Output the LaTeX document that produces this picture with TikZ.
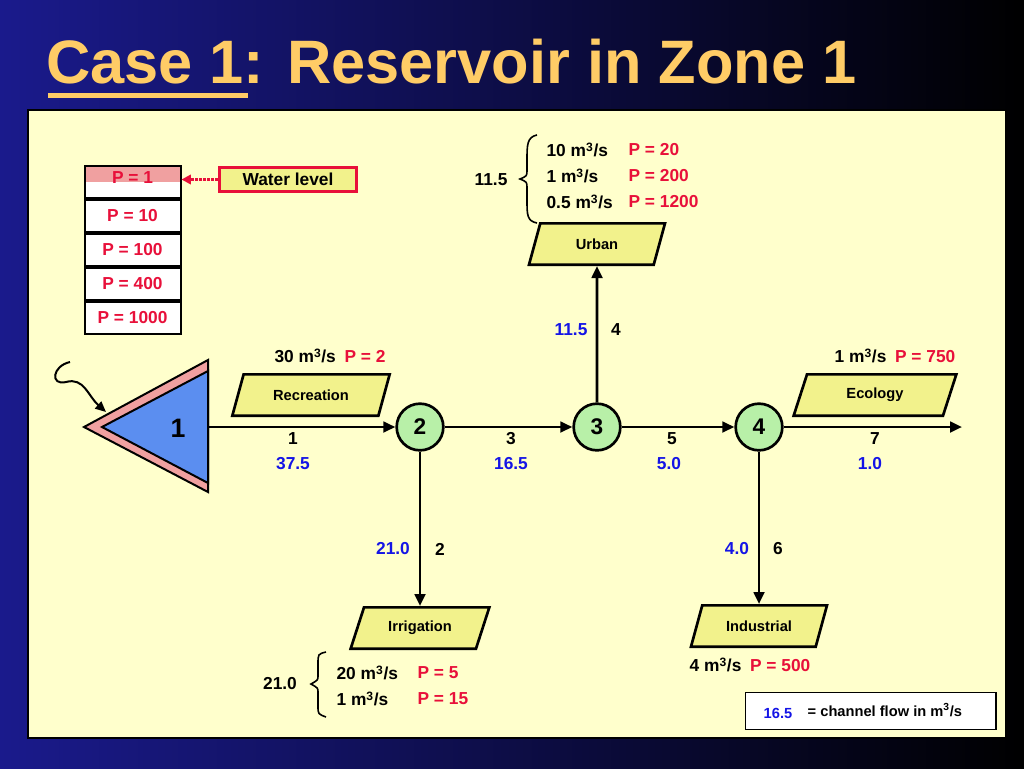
\documentclass[tikz,border=0pt]{standalone}
\usepackage{fontspec}
\setmainfont{Liberation Sans}
\usetikzlibrary{arrows.meta,shapes.geometric,positioning}
\definecolor{pred}{HTML}{E8103A}
\definecolor{fblue}{HTML}{1414E6}
\definecolor{paper}{HTML}{FFFFCC}
\definecolor{dem}{HTML}{F2F28C}
\definecolor{jn}{HTML}{B8F0A8}
\definecolor{resv}{HTML}{5B8EF0}
\definecolor{rpink}{HTML}{F0A0A0}
\definecolor{ttl}{HTML}{FFCC66}
\tikzset{
  junction/.style={circle,draw,line width=2pt,fill=jn,minimum size=35pt,inner sep=0pt,font=\bfseries\fontsize{17}{17}\selectfont},
  demand/.style={trapezium,trapezium left angle=55,trapezium right angle=125,trapezium stretches body,draw,line width=2pt,fill=dem,minimum height=31pt,minimum width=#1,inner sep=2pt,font=\bfseries\fontsize{11}{11}\selectfont},
  demand/.default=118pt,
  flow/.style={line width=2pt,-{Triangle[length=9pt,width=8pt]}},
  lbl/.style={font=\bfseries\fontsize{13}{13}\selectfont,inner sep=1pt},
  lvlrow/.style={draw,line width=1.5pt,minimum width=72pt,minimum height=24pt,inner sep=0pt,font=\bfseries\fontsize{13}{13}\selectfont,text=pred}
}
\begin{document}
\begin{tikzpicture}[x=0.75pt,y=0.75pt,yscale=-1,xscale=1]
    % background and panel
    \shade[left color={rgb,255:red,26;green,26;blue,140},right color=black] (0,0) rectangle (1024,768);
    \useasboundingbox (0,0) rectangle (1024,768);
    \draw[line width=2pt,fill=paper] (28,110) rectangle (1006,738);
    % title
    \node[anchor=west,text=ttl,inner sep=0pt] (title) at (46,62) {\bfseries\fontsize{46}{46}\selectfont Case 1: Reservoir in Zone 1};
    \fill[ttl] (48,93) rectangle (248,98);
    % level box
    \fill[white] (84,166) rectangle (181,198);
    \fill[rpink] (84,166) rectangle (181,182);
    \node[lvlrow] (lv1) at (132.5,182) {};
    \node[lbl,text=pred] at ([yshift=-3pt]lv1.center) {P = 1};
    \node[lvlrow,fill=white,below=0pt of lv1] (lv2) {P = 10};
    \node[lvlrow,fill=white,below=0pt of lv2] (lv3) {P = 100};
    \node[lvlrow,fill=white,below=0pt of lv3] (lv4) {P = 400};
    \node[lvlrow,fill=white,below=0pt of lv4] (lv5) {P = 1000};
    \node[draw=pred,line width=2pt,fill=dem,minimum width=103pt,minimum height=18pt,inner sep=0pt,lbl] (wl) at (288,179.5) {Water level};
    \draw[pred,line width=2pt,densely dotted,-{Triangle[length=7pt,width=7pt]}] (wl.west) -- (lv1.east|-wl.west);
    % reservoir
    \fill[rpink] (84,427) -- (208,360) -- (208,492) -- cycle;
    \draw[line width=1.5pt] (84,427) -- (208,360) -- (208,492) -- cycle;
    \filldraw[fill=resv,line width=1.5pt] (102,427) -- (208,371) -- (208,483) -- cycle;
    \node[font=\bfseries\fontsize{20}{20}\selectfont] (r1) at (178,428) {1};
    \coordinate (res) at (208,427);
    \coordinate (rain) at (70,362);
    \coordinate (inflow) at (106,412);
    \draw[line width=1.5pt,-{Triangle[length=8pt,width=7pt]}] (rain) .. controls (52,366) and (50,386) .. (66,382) .. controls (84,377) and (88,396) .. (inflow);
    % junctions
    \node[junction] (n2) at (420,427) {2};
    \node[junction] (n3) at (597,427) {3};
    \node[junction] (n4) at (759,427) {4};
    \coordinate (out) at (962,427);
    % demands
    \node[demand] (rec) at (311,395) {Recreation};
    \node[demand=122pt] (eco) at (875,395) {Ecology};
    \node[demand=102pt] (urb) at (597,244) {Urban};
    \node[demand=104pt] (irr) at (420,628) {Irrigation};
    \node[demand=102pt] (ind) at (759,626) {Industrial};
    % channels
    \draw[flow] (res) -- (n2);
    \draw[flow] (n2) -- (n3);
    \draw[flow] (n3) -- (n4);
    \draw[flow] (n4) -- (out);
    \draw[flow] (n3) -- (urb);
    \draw[flow] (n2) -- (irr.north-|n2);
    \draw[flow] (n4) -- (ind.north-|n4);
    % channel labels
    \node[lbl] at (293,439) {1};  \node[lbl,text=fblue] at (293,464) {37.5};
    \node[lbl] at (511,439) {3};  \node[lbl,text=fblue] at (511,464) {16.5};
    \node[lbl] at (672,439) {5};  \node[lbl,text=fblue] at (669,464) {5.0};
    \node[lbl] at (875,439) {7};  \node[lbl,text=fblue] at (870,464) {1.0};
    \node[lbl,text=fblue] at (571,330) {11.5}; \node[lbl] at (616,330) {4};
    \node[lbl,text=fblue] at (393,549) {21.0}; \node[lbl] at (440,549) {2};
    \node[lbl,text=fblue] at (737,549) {4.0};  \node[lbl] at (778,549) {6};
    % targets
    \node[lbl] at (330,356) {30 m\textsuperscript{3}/s\enspace\textcolor{pred}{P = 2}};
    \node[lbl] at (895,356) {1 m\textsuperscript{3}/s\enspace\textcolor{pred}{P = 750}};
    \node[lbl] at (750,665) {4 m\textsuperscript{3}/s\enspace\textcolor{pred}{P = 500}};
    \node[lbl] at (491,180) {11.5};
    \draw[line width=1.2pt] (537,135) .. controls (527,137) and (527,145) .. (527,160) -- (527,170) .. controls (527,176) .. (520,179) .. controls (527,182) .. (527,188) -- (527,200) .. controls (527,215) and (527,221) .. (537,223);
    \node[lbl,anchor=west] at (545,150) {10 m\textsuperscript{3}/s};
    \node[lbl,anchor=west] at (545,176) {1 m\textsuperscript{3}/s};
    \node[lbl,anchor=west] at (545,202) {0.5 m\textsuperscript{3}/s};
    \node[lbl,anchor=west,text=pred] at (627,150) {P = 20};
    \node[lbl,anchor=west,text=pred] at (627,176) {P = 200};
    \node[lbl,anchor=west,text=pred] at (627,202) {P = 1200};
    \node[lbl] at (280,684) {21.0};
    \draw[line width=1.2pt] (326,652) .. controls (318,654) .. (318,664) -- (318,676) .. controls (318,680) .. (311,684) .. controls (318,688) .. (318,692) -- (318,706) .. controls (318,714) .. (326,717);
    \node[lbl,anchor=west] at (335,673) {20 m\textsuperscript{3}/s};
    \node[lbl,anchor=west] at (335,699) {1 m\textsuperscript{3}/s};
    \node[lbl,anchor=west,text=pred] at (416,673) {P = 5};
    \node[lbl,anchor=west,text=pred] at (416,699) {P = 15};
    % legend
    \node[draw,line width=1pt,fill=white,minimum width=188pt,minimum height=28pt] (leg) at (870.5,711) {};
    \node[font=\bfseries\fontsize{11}{11}\selectfont,text=fblue] at (778,713) {16.5};
    \node[font=\bfseries\fontsize{11}{11}\selectfont,anchor=west] at (803,710) {= channel flow in m\textsuperscript{3}/s};
\end{tikzpicture}
\end{document}
